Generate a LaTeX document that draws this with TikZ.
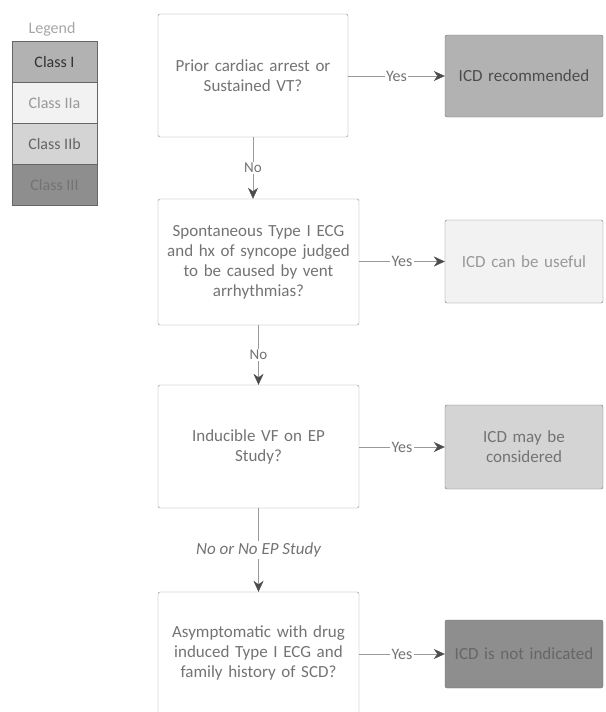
\documentclass[tikz,border=0pt]{standalone}
\usepackage{fontspec}
\setmainfont{Carlito}
\usetikzlibrary{arrows.meta,positioning}
\definecolor{clsI}{HTML}{B2B2B2}
\definecolor{clsIIa}{HTML}{F2F2F2}
\definecolor{clsIIb}{HTML}{D4D4D4}
\definecolor{clsIII}{HTML}{8E8E8E}
\tikzset{
 qbox/.style={draw=black!45, rounded corners=2pt, align=center, text=black!55, font=\fontsize{17}{20}\selectfont, minimum width=201pt, minimum height=#1, text width=198pt, inner sep=0pt},
 rbox/.style={draw=black!55, rounded corners=2pt, fill=#1, align=center, font=\fontsize{17}{20}\selectfont, minimum width=158pt, text width=155pt, inner sep=0pt},
 lbox/.style={draw=black!60, fill=#1, minimum width=85pt, minimum height=41pt, font=\fontsize{16}{18}\selectfont, inner sep=0pt, outer sep=0pt},
 go/.style={draw=black!40, -{Stealth[length=11pt,width=10pt,color=black!70]}},
 lbl/.style={fill=white, inner sep=1.5pt, text=black!55, font=\fontsize{16}{18}\selectfont}
}
\begin{document}
\begin{tikzpicture}[x=1pt,y=-1pt]
\useasboundingbox (0,0) rectangle (605,712);
\node[text=black!35, font=\fontsize{16}{18}\selectfont] (lgd) at (52,29) {Legend};
\node[lbox=clsI, text=black!80] (c1) at (54.5,62) {Class I};
\node[lbox=clsIIa, text=black!40, below=0pt of c1] (c2) {Class IIa};
\node[lbox=clsIIb, text=black!60, below=0pt of c2] (c3) {Class IIb};
\node[lbox=clsIII, text=black!55, below=0pt of c3] (c4) {Class III};

\node[qbox=123pt, minimum width=190pt, text width=180pt] (q1) at (253,75.5) {Prior cardiac arrest or\\Sustained VT?};
\node[qbox=126pt] (q2) at (258.5,262) {Spontaneous Type I ECG\\and hx of syncope judged\\to be caused by vent\\arrhythmias?};
\node[qbox=123pt] (q3) at (258.5,446.5) {Inducible VF on EP\\Study?};
\node[qbox=122pt] (q4) at (258.5,653) {Asymptomatic with drug\\induced Type I ECG  and\\family history of SCD?};

\node[rbox=clsI, minimum height=82pt, text=black!70] (r1) at (524,76) {ICD recommended};
\node[rbox=clsIIa, minimum height=83pt, text=black!40] (r2) at (524,261.5) {ICD can be useful};
\node[rbox=clsIIb, minimum height=84pt, text=black!55] (r3) at (524,447) {ICD may be\\considered};
\node[rbox=clsIII, minimum height=68pt, text=black!60] (r4) at (524,654) {ICD is not indicated};

\draw[go] (r1.west -| q1.east) -- node[lbl]{Yes} (r1.west);
\draw[go] (r2.west -| q2.east) -- node[lbl]{Yes} (r2.west);
\draw[go] (r3.west -| q3.east) -- node[lbl]{Yes} (r3.west);
\draw[go] (r4.west -| q4.east) -- node[lbl]{Yes} (r4.west);
\draw[go] (q1.south) -- node[lbl, font=\fontsize{15}{17}\selectfont]{No} (q1.south |- q2.north);
\draw[go] (q2) -- node[lbl, font=\fontsize{15}{17}\selectfont]{No} (q3);
\draw[go] (q3) -- node[lbl, font=\fontsize{17}{19}\selectfont\itshape]{No or No EP Study} (q4);
\end{tikzpicture}
\end{document}
